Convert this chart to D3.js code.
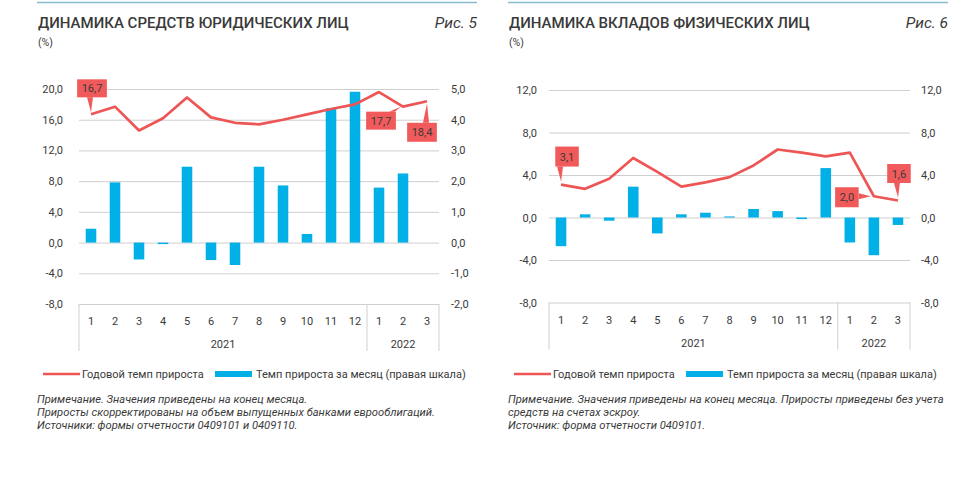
<!DOCTYPE html>
<html>
<head>
<meta charset="utf-8">
<script src="https://cdn.jsdelivr.net/npm/d3@7"></script>
<style>
body{margin:0;background:#fff;}
text{font-family:Roboto, "Noto Sans", sans-serif;fill:#3a3a3a;}
.grid line{stroke:#cfcfcf;stroke-width:1;}
.grid path{display:none;}
.tick text{font-size:11px;}
.note{font-style:italic;font-size:11.2px;}
</style>
</head>
<body>
<script>
// months along the axis
var months = ["1","2","3","4","5","6","7","8","9","10","11","12","1","2","3"];
var yearLabels = ["2021","2022"];
var yearMonths = [12,3];

// Рис. 5 - средства юридических лиц
var legalAnnual = [16.7,17.7,14.6,16.2,18.9,16.3,15.6,15.4,16.0,16.7,17.4,18.0,19.6,17.7,18.4];
var legalMonthly = [0.45,1.96,-0.55,-0.05,2.47,-0.57,-0.73,2.47,1.86,0.28,4.37,4.91,1.79,2.25,null];
var legalTicksLeft = [-8,-4,0,4,8,12,16,20];
var legalTicksRight = [-2,-1,0,1,2,3,4,5];

// Рис. 6 - вклады физических лиц
var depAnnual = [3.1,2.7,3.65,5.6,4.3,2.9,3.3,3.8,4.9,6.4,6.1,5.75,6.1,2.0,1.6];
var depMonthly = [-2.7,0.3,-0.3,2.9,-1.5,0.3,0.45,0.1,0.8,0.6,-0.15,4.65,-2.35,-3.55,-0.7];
var depTicks = [-8,-4,0,4,8,12];

var legendLine = "Годовой темп прироста";
var legendBar = "Темп прироста за месяц (правая шкала)";

var fmt = function(v){ return v.toFixed(1).replace(".", ","); };

var svg = d3.select("body").append("svg").attr("width",971).attr("height",495);

function drawPanel(c){
    var g = svg.append("g");

    // top rule and titles
    g.append("line").attr("x1",c.left).attr("x2",c.right).attr("y1",2.5).attr("y2",2.5)
        .attr("stroke","#86bccb").attr("stroke-width",1.3);
    g.append("text").attr("x",c.left+1).attr("y",28).attr("font-size","15px")
        .attr("font-weight","500").attr("fill","#2f2f2f").text(c.title);
    g.append("text").attr("x",c.right).attr("y",28).attr("font-size","15.5px")
        .attr("font-style","italic").attr("text-anchor","end").attr("fill","#2f2f2f").text(c.fig);
    g.append("text").attr("x",c.left+1).attr("y",46).attr("font-size","10.5px").text("(%)");

    var x = d3.scaleBand().domain(d3.range(months.length)).range([c.x0,c.x1])
        .paddingInner(0.56).paddingOuter(0.28);
    var cx = function(i){ return x(i)+x.bandwidth()/2; };
    var yL = d3.scaleLinear().domain(c.domL).range([c.yb,c.yt]);
    var yR = d3.scaleLinear().domain(c.domR).range([c.yb,c.yt]);

    // grid
    g.append("g").attr("class","grid").attr("transform","translate("+c.x0+",0)")
        .call(d3.axisLeft(yL).tickValues(c.ticksL).tickSize(-(c.x1-c.x0)).tickFormat(""));

    // axes labels
    g.append("g").attr("transform","translate("+c.x0+",0)")
        .call(d3.axisLeft(yL).tickValues(c.ticksL).tickSize(0).tickPadding(c.padL).tickFormat(fmt))
        .call(function(a){ a.select(".domain").remove(); });
    g.append("g").attr("transform","translate("+c.x1+",0)")
        .call(d3.axisRight(yR).tickValues(c.ticksR).tickSize(0).tickPadding(c.padR).tickFormat(fmt))
        .call(function(a){ a.select(".domain").remove(); });

    // bars (right scale)
    g.selectAll("rect.bar").data(c.bars.map(function(v,i){return {v:v,i:i};}).filter(function(d){return d.v!==null;}))
        .enter().append("rect").attr("class","bar")
        .attr("x",function(d){return x(d.i);})
        .attr("width",x.bandwidth())
        .attr("y",function(d){return Math.min(yR(d.v),yR(0));})
        .attr("height",function(d){return Math.abs(yR(d.v)-yR(0));})
        .attr("fill","#00b0e6");

    // line (left scale)
    g.append("path").datum(c.line)
        .attr("d",d3.line().x(function(d,i){return cx(i);}).y(function(d){return yL(d);}))
        .attr("fill","none").attr("stroke","#ee5656").attr("stroke-width",2.7).attr("stroke-linejoin","round");

    // callouts
    c.callouts.forEach(function(co){
        var px = cx(co.i), py = yL(c.line[co.i]);
        var cg = g.append("g");
        var t = cg.append("text").attr("font-size","11px").attr("fill","#fff")
            .attr("text-anchor","middle").attr("dominant-baseline","central").text(fmt(c.line[co.i]));
        var w = t.node().getComputedTextLength()+9, h = co.h;
        var bx = px+co.dx-w/2, by = py+co.dy-h/2;
        var base;
        if(co.side==="bottom"||co.side==="top"){
            var yy = co.side==="bottom" ? by+h : by;
            var xa = Math.max(bx+1, Math.min(bx+w-7, px-4));
            base = [[xa,yy],[xa+6,yy]];
        } else {
            var xx = co.side==="right" ? bx+w : bx;
            var ya = Math.max(by+1, Math.min(by+h-7, py-3));
            base = [[xx,ya],[xx,ya+6]];
        }
        var tip = [px+(co.tx||0), py+(co.ty||0)];
        cg.insert("path","text")
            .attr("d","M"+base[0]+"L"+tip+"L"+base[1]+"Z").attr("fill","#f05a5a");
        cg.insert("rect","text").attr("x",bx).attr("y",by).attr("width",w).attr("height",h).attr("fill","#f05a5a");
        t.attr("x",bx+w/2).attr("y",by+h/2+0.5);
    });

    // category table
    var yb = c.yb, tb = yb+47;
    var edges = [0];
    yearMonths.forEach(function(n,k){ edges.push(edges[k]+n); });
    edges.forEach(function(e){
        var xe = e<months.length ? x(e)-x.step()*x.paddingInner()/2 : c.x1;
        g.append("line").attr("x1",xe).attr("x2",xe).attr("y1",yb).attr("y2",tb)
            .attr("stroke","#cfcfcf");
    });
    g.selectAll("text.month").data(months).enter().append("text").attr("class","month")
        .attr("x",function(d,i){return cx(i);}).attr("y",yb+21)
        .attr("text-anchor","middle").attr("font-size","11px").text(function(d){return d;});
    yearLabels.forEach(function(lab,k){
        var a = cx(edges[k]), b = cx(edges[k+1]-1);
        g.append("text").attr("x",(a+b)/2).attr("y",yb+44).attr("text-anchor","middle")
            .attr("font-size","11px").text(lab);
    });

    // legend
    g.append("line").attr("x1",c.left+6).attr("x2",c.left+43).attr("y1",374).attr("y2",374)
        .attr("stroke","#ee5656").attr("stroke-width",2.6);
    g.append("text").attr("x",c.left+45).attr("y",378).attr("font-size","11px").text(legendLine);
    g.append("rect").attr("x",c.left+178).attr("y",371).attr("width",37).attr("height",6).attr("fill","#00b0e6");
    g.append("text").attr("x",c.left+219).attr("y",378).attr("font-size","11px").text(legendBar);

    // notes
    c.notes.forEach(function(n,k){
        g.append("text").attr("class","note").attr("x",c.left).attr("y",403+k*13).text(n);
    });
}

drawPanel({
    left:37, right:477, title:"ДИНАМИКА СРЕДСТВ ЮРИДИЧЕСКИХ ЛИЦ", fig:"Рис. 5",
    x0:79, x1:439, yb:304, yt:89, domL:[-8,20], domR:[-2,5],
    ticksL:legalTicksLeft, ticksR:legalTicksRight, padL:16, padR:12,
    bars:legalMonthly, line:legalAnnual,
    callouts:[{i:0,dx:1,dy:-26,h:18,side:"bottom",ty:-2},
              {i:13,dx:-22,dy:14,h:18,side:"top",tx:-2},
              {i:14,dx:-5,dy:31,h:19,side:"top",ty:2}],
    notes:["Примечание. Значения приведены на конец месяца.",
           "Приросты скорректированы на объем выпущенных банками еврооблигаций.",
           "Источники: формы отчетности 0409101 и 0409110."]
});

drawPanel({
    left:508, right:948, title:"ДИНАМИКА ВКЛАДОВ ФИЗИЧЕСКИХ ЛИЦ", fig:"Рис. 6",
    x0:549, x1:910, yb:302.5, yt:90, domL:[-8,12], domR:[-8,12],
    ticksL:depTicks, ticksR:depTicks, padL:12, padR:11,
    bars:depMonthly, line:depAnnual,
    callouts:[{i:0,dx:6,dy:-28,h:20,side:"bottom",ty:-3},
              {i:13,dx:-27,dy:1,h:20,side:"right",tx:-3},
              {i:14,dx:1,dy:-27,h:19,side:"bottom",ty:-3}],
    notes:["Примечание. Значения приведены на конец месяца. Приросты приведены без учета",
           "средств на счетах эскроу.",
           "Источник: форма отчетности 0409101."]
});
</script>
</body>
</html>
